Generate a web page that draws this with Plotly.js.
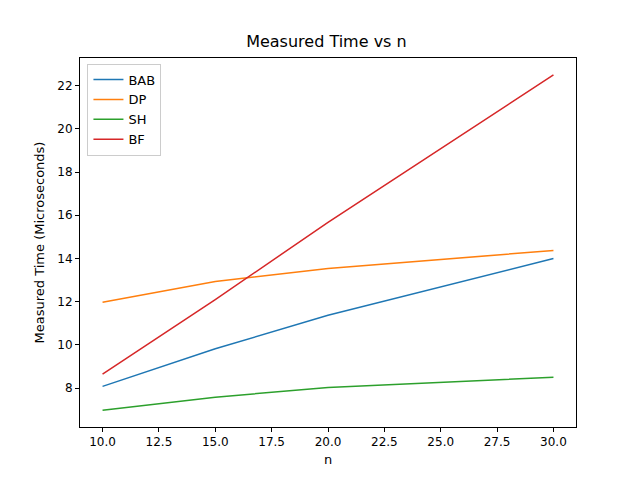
<!DOCTYPE html>
<html>
<head>
<script src="https://cdn.plot.ly/plotly-3.0.1.min.js"></script>
<style>body{margin:0}</style>
</head>
<body>
<div id="chart" style="width:640px;height:480px"></div>
<script>
const nValues = [10, 15, 20, 30];
const babTimes = [8.08, 9.82, 11.37, 14.0];
const dpTimes = [11.97, 12.94, 13.54, 14.37];
const shTimes = [6.98, 7.58, 8.03, 8.5];
const bfTimes = [8.65, 12.1, 15.67, 22.5];

const seriesNames = ["BAB", "DP", "SH", "BF"];
const seriesColors = ["#1f77b4", "#ff7f0e", "#2ca02c", "#d62728"];
const allTimes = [babTimes, dpTimes, shTimes, bfTimes];

let data = allTimes.map((times, i) => ({
	x: nValues,
	y: times,
	name: seriesNames[i],
	type: "scatter",
	mode: "lines",
	line: {color: seriesColors[i], width: 1.5}
}));

let axisStyle = {
	showgrid: false,
	zeroline: false,
	showline: true,
	mirror: true,
	linecolor: "black",
	linewidth: 1,
	ticks: "outside",
	ticklen: 4,
	tickcolor: "black",
	tickfont: {size: 12, color: "black"}
};

let layout = {
	width: 640,
	height: 480,
	font: {family: "DejaVu Sans", color: "black"},
	title: {text: "Measured Time vs n", font: {size: 16}, x: 0.51, y: 0.925},
	margin: {l: 80, r: 64, t: 58, b: 53},
	plot_bgcolor: "white",
	paper_bgcolor: "white",
	xaxis: Object.assign({}, axisStyle, {
		range: [9, 31],
		tickvals: [10, 12.5, 15, 17.5, 20, 22.5, 25, 27.5, 30],
		ticktext: ["10.0", "12.5", "15.0", "17.5", "20.0", "22.5", "25.0", "27.5", "30.0"],
		automargin: true,
		title: {text: "n", font: {size: 13}, standoff: 6}
	}),
	yaxis: Object.assign({}, axisStyle, {
		range: [6.2, 23.28],
		tickvals: [8, 10, 12, 14, 16, 18, 20, 22],
		title: {text: "Measured Time (Microseconds)", font: {size: 13}}
	}),
	showlegend: true,
	legend: {
		x: 0.015, y: 0.985, xanchor: "left", yanchor: "top",
		bgcolor: "white", bordercolor: "#cccccc", borderwidth: 1,
		font: {size: 13}
	}
};

Plotly.newPlot("chart", data, layout, {displayModeBar: false});
</script>
</body>
</html>
